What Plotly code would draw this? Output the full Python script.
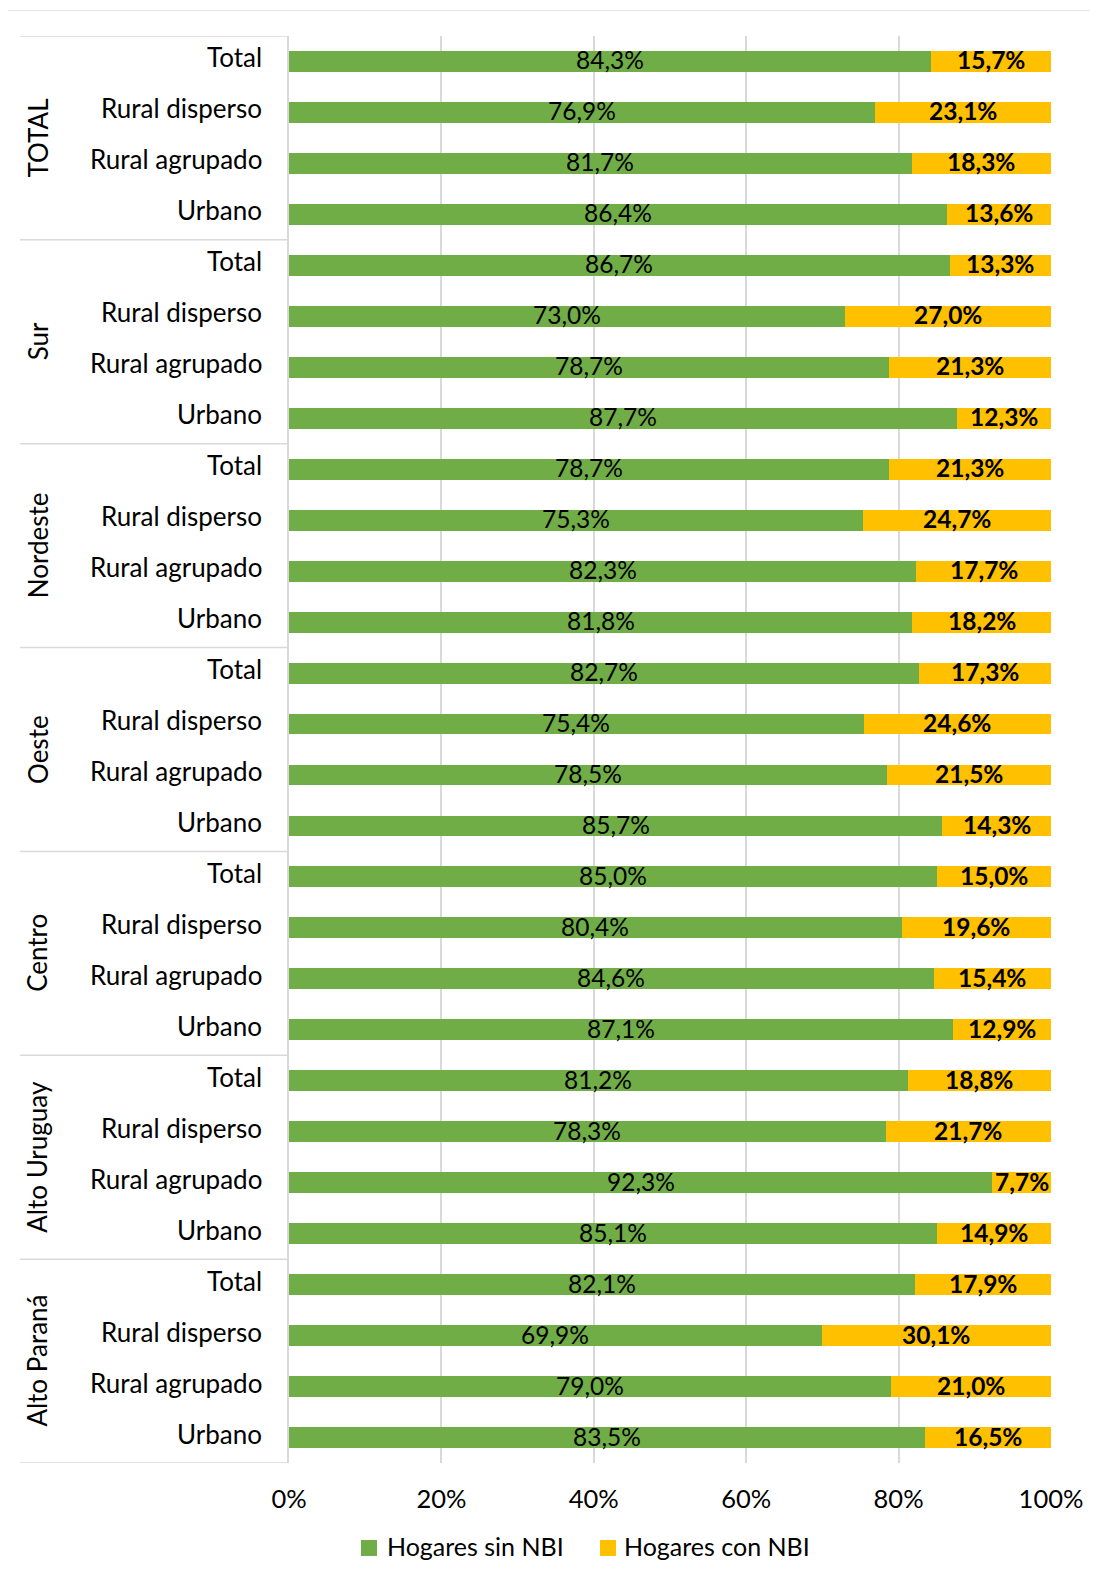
import plotly.graph_objects as go

regions = ["TOTAL", "Sur", "Nordeste", "Oeste", "Centro", "Alto Uruguay", "Alto Paraná"]
areas = ["Total", "Rural disperso", "Rural agrupado", "Urbano"]

sin_nbi = [84.3, 76.9, 81.7, 86.4,
           86.7, 73.0, 78.7, 87.7,
           78.7, 75.3, 82.3, 81.8,
           82.7, 75.4, 78.5, 85.7,
           85.0, 80.4, 84.6, 87.1,
           81.2, 78.3, 92.3, 85.1,
           82.1, 69.9, 79.0, 83.5]
con_nbi = [15.7, 23.1, 18.3, 13.6,
           13.3, 27.0, 21.3, 12.3,
           21.3, 24.7, 17.7, 18.2,
           17.3, 24.6, 21.5, 14.3,
           15.0, 19.6, 15.4, 12.9,
           18.8, 21.7, 7.7, 14.9,
           17.9, 30.1, 21.0, 16.5]
series_names = ["Hogares sin NBI", "Hogares con NBI"]
x_ticks = [0, 20, 40, 60, 80, 100]

GREEN = "#70AD47"
YELLOW = "#FFC000"
GRID = "#D9D9D9"
FONT = "Lato"

keys = [f"{r}|{a}" for r in regions for a in areas]
labels = [a for r in regions for a in areas]

def fmt(v):
    return f"{v:.1f}".replace(".", ",") + "%"

# page coordinates (the browser body adds an 8px offset)
OFF = 8
W, H = 1098 - OFF, 1589 - OFF
L, R, T, B = 289 - OFF, 1051 - OFF, 35.5 - OFF, 1463 - OFF

def px2x(p):
    return (p - OFF - L) / (R - L)

def px2y(p):
    return (B - (p - OFF)) / (B - T)

fig = go.Figure()
fig.add_trace(go.Bar(y=keys, x=sin_nbi, orientation="h", name=series_names[0],
                     marker=dict(color=GREEN, line=dict(width=0)), showlegend=False))
fig.add_trace(go.Bar(y=keys, x=con_nbi, orientation="h", name=series_names[1],
                     marker=dict(color=YELLOW, line=dict(width=0)), showlegend=False))

shapes = []
annotations = []

# data labels
for k, s, c in zip(keys, sin_nbi, con_nbi):
    annotations.append(dict(text=fmt(s), xref="x", yref="y", x=s / 2, y=k, showarrow=False,
                            xanchor="center", yanchor="middle", yshift=1.5,
                            font=dict(family=FONT, size=24.5, color="#000000")))
    annotations.append(dict(text=f"<b>{fmt(c)}</b>", xref="x", yref="y", x=s + c / 2, y=k,
                            showarrow=False, xanchor="center", yanchor="middle", yshift=1.5,
                            font=dict(family=FONT, size=24.5, color="#000000")))

# category labels
for k, lab in zip(keys, labels):
    annotations.append(dict(text=lab, xref="paper", yref="y", x=px2x(264), y=k, showarrow=False,
                            xanchor="right", yanchor="middle", yshift=4,
                            font=dict(family=FONT, size=26, color="#000000")))

# group separators
for g in range(len(regions) + 1):
    yv = g * len(areas) - 0.5
    shapes.append(dict(type="line", xref="paper", yref="y", x0=px2x(20), x1=0, y0=yv, y1=yv,
                       line=dict(color=GRID, width=1.5)))
# outer chart border (top and left)
shapes.append(dict(type="line", xref="paper", yref="paper", x0=px2x(7), x1=px2x(1110),
                   y0=px2y(10), y1=px2y(10), line=dict(color="#E6E6E6", width=1.2)))
shapes.append(dict(type="line", xref="paper", yref="paper", x0=px2x(7), x1=px2x(7),
                   y0=px2y(10), y1=px2y(1600), line=dict(color="#E6E6E6", width=1.2)))

for gi, r in enumerate(regions):
    yc = gi * len(areas) + (len(areas) - 1) / 2
    annotations.append(dict(text=r, xref="paper", yref="y", x=px2x(37.5), y=yc,
                            textangle=-90, showarrow=False, xanchor="center", yanchor="middle",
                            font=dict(family=FONT, size=26, color="#000000")))

# legend drawn manually (square markers + text)
legend_items = [(series_names[0], GREEN, 361, 385.5), (series_names[1], YELLOW, 600, 622.5)]
for name, col, sq_x, tx in legend_items:
    shapes.append(dict(type="rect", xref="paper", yref="paper",
                       x0=px2x(sq_x), x1=px2x(sq_x + 16), y0=px2y(1540), y1=px2y(1556),
                       fillcolor=col, line=dict(width=0)))
    annotations.append(dict(text=name, xref="paper", yref="paper", x=px2x(tx - 1), y=px2y(1546),
                            xanchor="left", yanchor="middle", showarrow=False,
                            font=dict(family=FONT, size=25, color="#000000")))

fig.update_layout(
    width=W, height=H,
    margin=dict(l=L, r=W - R, t=T, b=H - B, pad=0),
    barmode="stack", bargap=0.59,
    plot_bgcolor="white", paper_bgcolor="white",
    font=dict(family=FONT, size=25, color="#000000"),
    shapes=shapes, annotations=annotations,
    showlegend=False,
)
fig.update_xaxes(range=[0, 100], tickvals=x_ticks, ticktext=[f"{t}%" for t in x_ticks],
                 showgrid=True, gridcolor=GRID, gridwidth=1.5, zeroline=False,
                 showline=False, ticks="", ticklabelstandoff=18,
                 tickfont=dict(family=FONT, size=25.5, color="#000000"))
fig.update_yaxes(type="category", categoryorder="array", categoryarray=keys,
                 range=[len(keys) - 0.5, -0.5], autorange=False,
                 showticklabels=False,
                 showgrid=False, zeroline=False, showline=True, linecolor=GRID, linewidth=1.5,
                 ticks="")

fig.write_html("out.html")
